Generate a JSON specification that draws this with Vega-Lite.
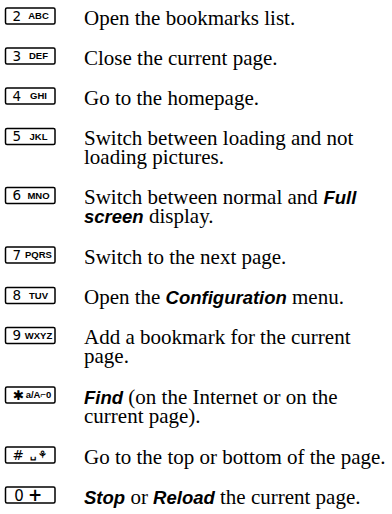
{
  "$schema": "https://vega.github.io/schema/vega-lite/v6.json",
  "width": 392,
  "height": 514,
  "autosize": {"type": "fit", "contains": "padding"},
  "padding": 0,
  "background": "white",
  "config": {"view": {"stroke": null}},
  "datasets": {
    "keys": [
      {"base": 24.5, "digit": "2", "letters": "ABC"},
      {"base": 64.5, "digit": "3", "letters": "DEF"},
      {"base": 104.5, "digit": "4", "letters": "GHI"},
      {"base": 145, "digit": "5", "letters": "JKL"},
      {"base": 204, "digit": "6", "letters": "MNO"},
      {"base": 263.5, "digit": "7", "letters": "PQRS"},
      {"base": 304, "digit": "8", "letters": "TUV"},
      {"base": 344, "digit": "9", "letters": "WXYZ"},
      {"base": 403.5, "digit": "✱", "letters": "a/A⌐0"},
      {"base": 463.5, "digit": "#", "letters": "␣ ⚘"},
      {"base": 503.5, "digit": "0", "letters": "+"}
    ],
    "lines": [
      {"base": 24.5, "x": 84, "text": "Open the bookmarks list.", "style": "plain"},
      {"base": 64.5, "x": 84, "text": "Close the current page.", "style": "plain"},
      {"base": 104.5, "x": 84, "text": "Go to the homepage.", "style": "plain"},
      {"base": 145, "x": 84, "text": "Switch between loading and not", "style": "plain"},
      {"base": 163.5, "x": 84, "text": "loading pictures.", "style": "plain"},
      {"base": 204, "x": 84, "text": "Switch between normal and", "style": "plain"},
      {"base": 204, "x": 323.5, "text": "Full", "style": "bold"},
      {"base": 223, "x": 84, "text": "screen", "style": "bold"},
      {"base": 223, "x": 149, "text": "display.", "style": "plain"},
      {"base": 263.5, "x": 84, "text": "Switch to the next page.", "style": "plain"},
      {"base": 304, "x": 84, "text": "Open the", "style": "plain"},
      {"base": 304, "x": 165.6, "text": "Configuration", "style": "bold"},
      {"base": 304, "x": 292, "text": "menu.", "style": "plain"},
      {"base": 344, "x": 84, "text": "Add a bookmark for the current", "style": "plain"},
      {"base": 363, "x": 84, "text": "page.", "style": "plain"},
      {"base": 403.5, "x": 84, "text": "Find", "style": "bold"},
      {"base": 403.5, "x": 128.3, "text": "(on the Internet or on the", "style": "plain"},
      {"base": 422.5, "x": 84, "text": "current page).", "style": "plain"},
      {"base": 463.5, "x": 84, "text": "Go to the top or bottom of the page.", "style": "plain"},
      {"base": 503.5, "x": 84, "text": "Stop", "style": "bold"},
      {"base": 503.5, "x": 130.4, "text": "or", "style": "plain"},
      {"base": 503.5, "x": 153.1, "text": "Reload", "style": "bold"},
      {"base": 503.5, "x": 220, "text": "the current page.", "style": "plain"}
    ]
  },
  "resolve": {"scale": {"x": "shared", "y": "shared"}},
  "layer": [
    {
      "data": {"name": "keys"},
      "mark": {"type": "rect", "fill": "white", "stroke": "black", "strokeWidth": 1.5, "cornerRadius": 1.5, "yOffset": -16.5, "y2Offset": -0.5},
      "encoding": {
        "x": {"datum": 5.5, "type": "quantitative", "scale": {"domain": [0, 392], "nice": false, "zero": false}, "axis": null},
        "x2": {"datum": 55},
        "y": {"field": "base", "type": "quantitative", "scale": {"domain": [0, 514], "nice": false, "zero": false, "reverse": true}, "axis": null},
        "y2": {"field": "base"}
      }
    },
    {
      "data": {"name": "keys"},
      "transform": [{"filter": "datum.digit != '0'"}],
      "mark": {"type": "text", "align": "left", "baseline": "alphabetic", "font": "DejaVu Sans", "fontSize": 13.5, "color": "black", "dy": -3.6},
      "encoding": {
        "x": {"datum": 12.5, "type": "quantitative"},
        "y": {"field": "base", "type": "quantitative"},
        "text": {"field": "digit"}
      }
    },
    {
      "data": {"name": "keys"},
      "transform": [{"filter": "datum.digit != '0'"}],
      "mark": {"type": "text", "align": "center", "baseline": "alphabetic", "font": "Liberation Sans", "fontWeight": "bold", "fontSize": 9.5, "color": "black", "dy": -5.1},
      "encoding": {
        "x": {"datum": 38.5, "type": "quantitative"},
        "y": {"field": "base", "type": "quantitative"},
        "text": {"field": "letters"}
      }
    },
    {
      "data": {"name": "keys"},
      "transform": [{"filter": "datum.digit == '0'"}],
      "mark": {"type": "text", "align": "center", "baseline": "alphabetic", "font": "DejaVu Sans", "fontSize": 15, "color": "black", "dy": -3},
      "encoding": {
        "x": {"datum": 19, "type": "quantitative"},
        "y": {"field": "base", "type": "quantitative"},
        "text": {"field": "digit"}
      }
    },
    {
      "data": {"name": "keys"},
      "transform": [{"filter": "datum.digit == '0'"}],
      "mark": {"type": "text", "align": "center", "baseline": "alphabetic", "font": "DejaVu Sans", "fontWeight": "bold", "fontSize": 17, "color": "black", "dy": -3},
      "encoding": {
        "x": {"datum": 35, "type": "quantitative"},
        "y": {"field": "base", "type": "quantitative"},
        "text": {"field": "letters"}
      }
    },
    {
      "data": {"name": "lines"},
      "transform": [{"filter": "datum.style == 'plain'"}],
      "mark": {"type": "text", "align": "left", "baseline": "alphabetic", "font": "Liberation Serif", "fontSize": 21, "color": "black"},
      "encoding": {
        "x": {"field": "x", "type": "quantitative"},
        "y": {"field": "base", "type": "quantitative"},
        "text": {"field": "text"}
      }
    },
    {
      "data": {"name": "lines"},
      "transform": [{"filter": "datum.style == 'bold'"}],
      "mark": {"type": "text", "align": "left", "baseline": "alphabetic", "font": "Liberation Sans", "fontWeight": "bold", "fontStyle": "italic", "fontSize": 18.5, "color": "black"},
      "encoding": {
        "x": {"field": "x", "type": "quantitative"},
        "y": {"field": "base", "type": "quantitative"},
        "text": {"field": "text"}
      }
    }
  ]
}
